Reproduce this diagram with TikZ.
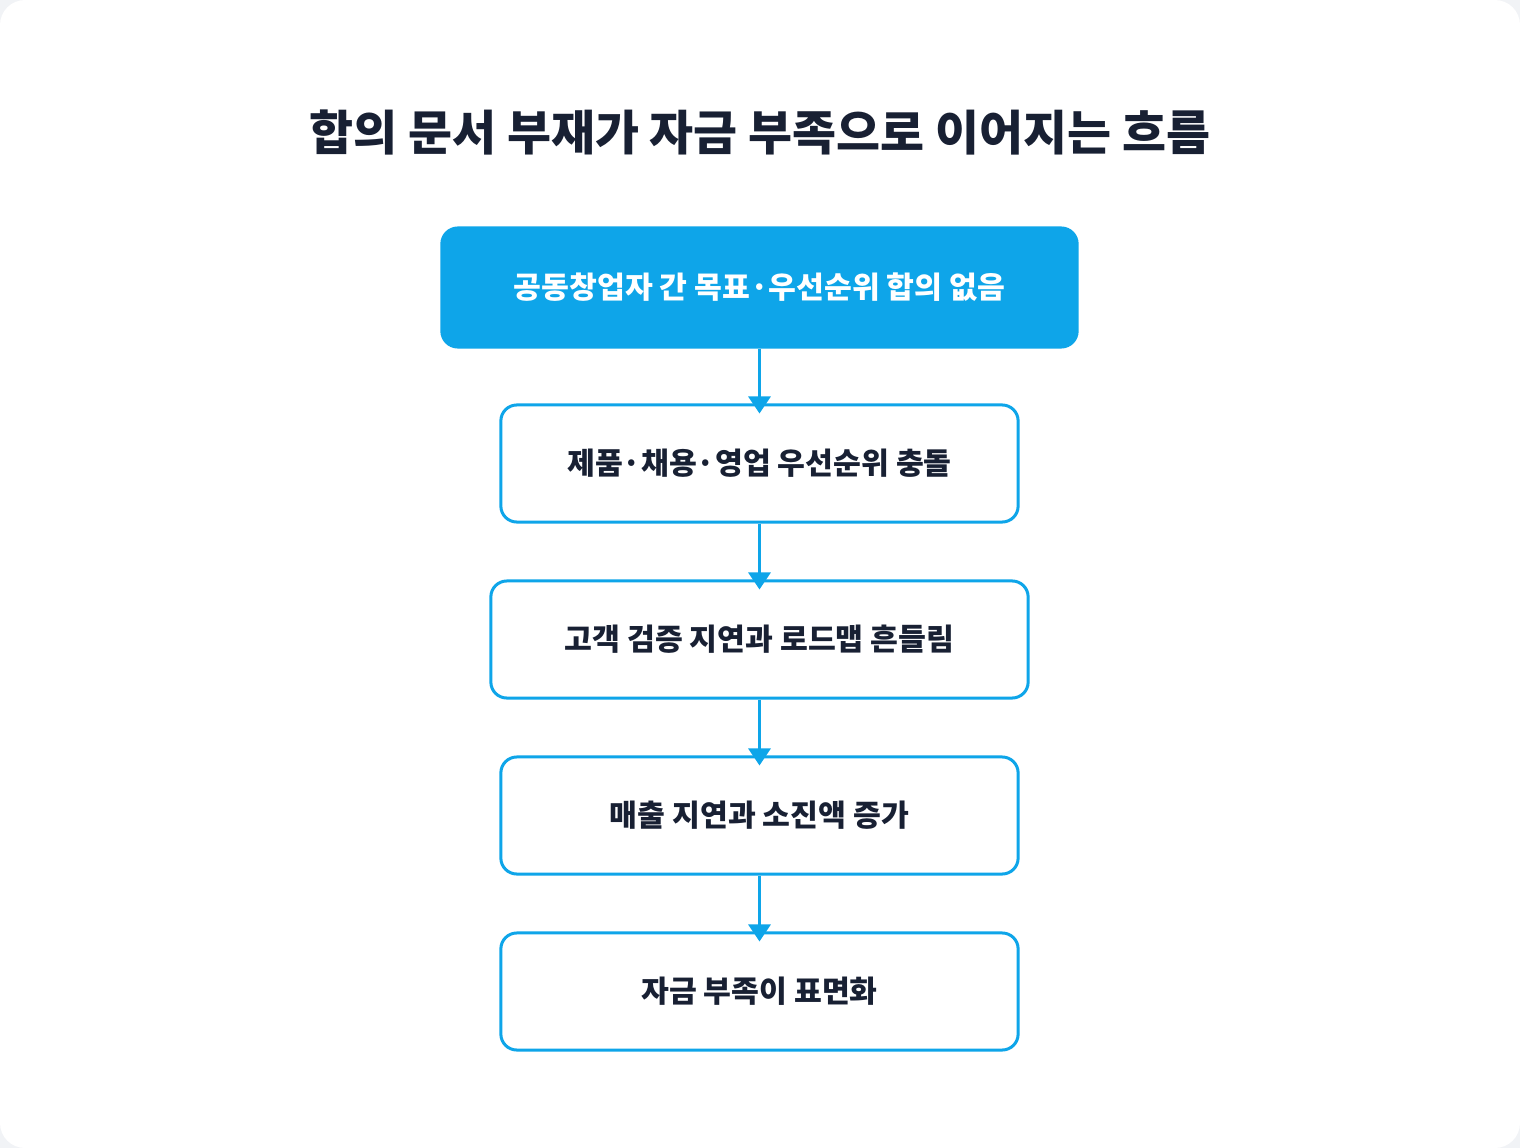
\documentclass[tikz,border=0pt]{standalone}
\usepackage{fontspec}
\setmainfont{Noto Sans CJK KR}
\usetikzlibrary{arrows.meta}
\definecolor{skyblue}{HTML}{0EA5E9}
\definecolor{inkdark}{HTML}{182033}
\definecolor{pagegray}{HTML}{F1F3F6}
\tikzset{
  firstbox/.style={draw=skyblue, fill=skyblue, line width=0.03cm, rounded corners=0.16cm,
    text=white, font=\bfseries\fontsize{8.6pt}{10pt}\selectfont},
  flowbox/.style={draw=skyblue, fill=white, line width=0.03cm, rounded corners=0.16cm,
    text=inkdark, font=\bfseries\fontsize{8.6pt}{10pt}\selectfont},
  flowarrow/.style={draw=skyblue, line width=0.03cm, -{Triangle[width=0.22cm,length=0.17cm]}}
}
\begin{document}
\begin{tikzpicture}[x=0.01cm, y=-0.01cm]
  \fill[pagegray] (0,0) rectangle (1520,1148);
  \fill[white, rounded corners=0.25cm] (0,0) rectangle (1520,1148);
  \useasboundingbox (0,0) rectangle (1520,1148);

  \node (title) at (760,132) [text=inkdark, font=\bfseries\fontsize{13.6pt}{16pt}\selectfont]
    {합의 문서 부재가 자금 부족으로 이어지는 흐름};

  \node (A) at (759.5,287.5) [firstbox, minimum width=6.35cm, minimum height=1.19cm] {공동창업자 간 목표·우선순위 합의 없음};
  \node (B) at (759.5,463.5) [flowbox, minimum width=5.17cm, minimum height=1.17cm] {제품·채용·영업 우선순위 충돌};
  \node (C) at (759.5,639.5) [flowbox, minimum width=5.37cm, minimum height=1.17cm] {고객 검증 지연과 로드맵 흔들림};
  \node (D) at (759.5,815.5) [flowbox, minimum width=5.17cm, minimum height=1.17cm] {매출 지연과 소진액 증가};
  \node (E) at (759.5,991.5) [flowbox, minimum width=5.17cm, minimum height=1.17cm] {자금 부족이 표면화};

  % Draw the flow between the boxes
  \draw[flowarrow] (A.south) -- ([yshift=-0.1cm]B.north);
  \draw[flowarrow] (B.south) -- ([yshift=-0.1cm]C.north);
  \draw[flowarrow] (C.south) -- ([yshift=-0.1cm]D.north);
  \draw[flowarrow] (D.south) -- ([yshift=-0.1cm]E.north);
\end{tikzpicture}
\end{document}
